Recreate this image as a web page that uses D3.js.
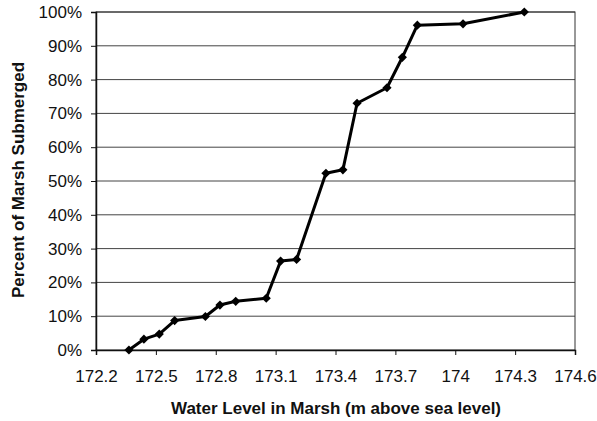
<!DOCTYPE html>
<html><head><meta charset="utf-8">
<script src="https://cdn.jsdelivr.net/npm/d3@7"></script>
<style>body{margin:0;background:#fff}svg{display:block}</style>
</head><body>
<svg id="c" width="597" height="421"></svg>
<script>
const waterLevel = [172.365, 172.44, 172.517, 172.594, 172.748, 172.821, 172.90, 173.053, 173.125, 173.205, 173.352, 173.437, 173.508, 173.658, 173.735, 173.81, 174.039, 174.346];
const percentSubmerged = [0, 3.2, 4.7, 8.7, 9.9, 13.3, 14.4, 15.3, 26.3, 26.8, 52.3, 53.3, 73.0, 77.6, 86.6, 96.1, 96.5, 100];
const xTicks = [172.2, 172.5, 172.8, 173.1, 173.4, 173.7, 174, 174.3, 174.6];
const yTicks = [0, 10, 20, 30, 40, 50, 60, 70, 80, 90, 100];
const xTitle = "Water Level in Marsh (m above sea level)";
const yTitle = "Percent of Marsh Submerged";

const svg = d3.select("#c");
const L = 96, R = 575, T = 12, B = 350;
const x = d3.scaleLinear().domain([172.2, 174.6]).range([L, R]);
const y = d3.scaleLinear().domain([0, 100]).range([B, T]);
const font = "'Liberation Sans', Arial, sans-serif";

// gridlines
svg.append("g").selectAll("line").data(yTicks.filter(d => d > 0)).join("line")
  .attr("x1", L).attr("x2", R).attr("y1", d => y(d)).attr("y2", d => y(d))
  .attr("stroke", "#444").attr("stroke-width", 1);

// border
svg.append("rect").attr("x", L).attr("y", T).attr("width", R - L).attr("height", B - T)
  .attr("fill", "none").attr("stroke", "#333").attr("stroke-width", 1);

// axes
const yAxis = d3.axisLeft(y).tickValues(yTicks).tickFormat(d => d + "%").tickSize(5).tickPadding(9);
const gy = svg.append("g").attr("transform", `translate(${L},0)`).call(yAxis);
const xAxis = d3.axisBottom(x).tickValues(xTicks).tickFormat(d => String(+d.toFixed(1))).tickSize(5).tickPadding(15);
const gx = svg.append("g").attr("transform", `translate(0,${B})`).call(xAxis);
[gx, gy].forEach(g => {
  g.select(".domain").attr("stroke", "#111").attr("stroke-width", 1.5);
  g.selectAll(".tick line").attr("stroke", "#111");
  g.selectAll("text").attr("font-family", font).attr("font-size", 17).attr("fill", "#111");
});

// line
const line = d3.line().x((d, i) => x(waterLevel[i])).y(d => y(d));
svg.append("path").datum(percentSubmerged).attr("d", line)
  .attr("fill", "none").attr("stroke", "#000").attr("stroke-width", 3).attr("stroke-linejoin", "round");

// markers (rotated squares)
const marker = d3.symbol().type(d3.symbolSquare).size(42);
svg.append("g").selectAll("path").data(percentSubmerged).join("path")
  .attr("d", marker)
  .attr("transform", (d, i) => `translate(${x(waterLevel[i])},${y(d)}) rotate(45)`)
  .attr("fill", "#000");

// titles
svg.append("text").attr("x", 336).attr("y", 414).attr("text-anchor", "middle")
  .attr("font-family", font).attr("font-size", 17).attr("font-weight", "bold").attr("fill", "#111")
  .text(xTitle);
svg.append("text").attr("transform", `translate(24,180) rotate(-90)`).attr("text-anchor", "middle")
  .attr("font-family", font).attr("font-size", 17).attr("font-weight", "bold").attr("fill", "#111")
  .text(yTitle);
</script>
</body></html>
